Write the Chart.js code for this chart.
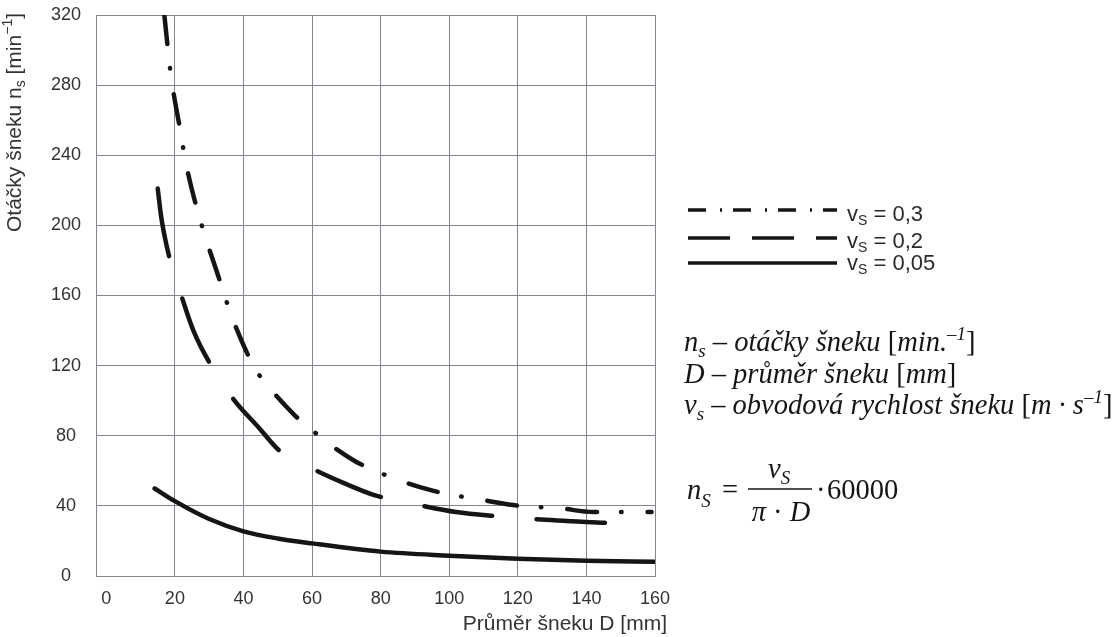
<!DOCTYPE html>
<html>
<head>
<meta charset="utf-8">
<script src="https://cdn.jsdelivr.net/npm/chart.js@4/dist/chart.umd.min.js"></script>
<style>
html,body{margin:0;padding:0;background:#fff;}
#wrap{width:1118px;height:637px;position:relative;}
</style>
</head>
<body>
<div id="wrap"><canvas id="c" width="1118" height="637"></canvas></div>
<script>
// ---- data ----
const xTickValues = [0, 20, 40, 60, 80, 100, 120, 140, 160];
const yTickValues = [0, 40, 80, 120, 160, 200, 240, 280, 320];

const seriesNames = ['0,3', '0,2', '0,05'];

// v_s = 0,3
const d03 = [16.9, 18.75, 21.4, 23.7, 27.7, 32.6, 36.6, 41.1, 44.6, 48.6, 55.1, 60.0, 64.8, 72.8, 78.1, 84.4, 94.9, 101.7, 108.4, 118.6, 124.9, 131.6, 142.1, 150.2, 159.0];
const n03 = [320.5, 287, 256, 231, 201, 171.4, 148, 127, 114.6, 105, 91.4, 83.2, 75.6, 65.2, 60.3, 55.3, 48.8, 46.0, 43.8, 40.5, 39.4, 38.8, 36.5, 36.5, 36.5];

// v_s = 0,2
const d02 = [15.0, 16.0, 17.2, 18.5, 20.0, 21.7, 25.4, 30.9, 37.4, 44.3, 50.8, 60.3, 69.3, 78.4, 91.1, 102.0, 113.2, 124.6, 147.4];
const n02 = [221, 205, 192, 181, 171, 161, 140, 119, 100, 85, 71, 61, 53, 46, 40.5, 36.5, 34.2, 32.5, 30.1];

// v_s = 0,05
const d005 = [14.1, 20, 30, 40, 50, 60, 80, 100, 120, 140, 160];
const n005 = [49.9, 42.7, 32.5, 25.5, 21.4, 18.6, 13.9, 11.6, 9.9, 8.7, 8.1];

// ---- styling ----
const SANS = "'Liberation Sans', Arial, 'DejaVu Sans', sans-serif";
const SERIF = "'Liberation Serif', 'Times New Roman', 'DejaVu Serif', serif";
const GRID = '#85858f';
const TICK = '#333333';
const INK = '#151515';

const pts = (xs, ys) => xs.map((x, i) => ({x: x, y: ys[i]}));

const dashStyles = [[30, 24, 0.5, 26], [68.5, 44.5], []];
const legendDash = [[18, 14, 2, 11], [42, 22], []];

function drawRuns(ctx, runs, x, y) {
  let cx = x;
  runs.forEach(r => {
    ctx.font = r.font;
    ctx.fillText(r.t, cx, y + (r.dy || 0));
    cx += ctx.measureText(r.t).width;
  });
  return cx;
}
function runsWidth(ctx, runs) {
  let w = 0;
  runs.forEach(r => { ctx.font = r.font; w += ctx.measureText(r.t).width; });
  return w;
}

const whiteBg = {
  id: 'whiteBg',
  beforeDraw(chart) {
    const c = chart.ctx;
    c.save();
    c.fillStyle = '#fff';
    c.fillRect(0, 0, chart.width, chart.height);
    c.restore();
  }
};

const annotations = {
  id: 'annotations',
  afterDraw(chart) {
    const ctx = chart.ctx;
    ctx.save();
    ctx.textBaseline = 'alphabetic';
    ctx.textAlign = 'left';

    // --- y-axis title (rotated) ---
    ctx.fillStyle = TICK;
    const f21 = '21px ' + SANS, f14 = '14px ' + SANS;
    const yRuns = [
      {t: 'Otáčky šneku n', font: f21},
      {t: 's', font: f14, dy: 4},
      {t: ' [min', font: f21},
      {t: '−1', font: f14, dy: -9},
      {t: ']', font: f21}
    ];
    const yw = runsWidth(ctx, yRuns);
    ctx.save();
    ctx.translate(21, 13 + yw);
    ctx.rotate(-Math.PI / 2);
    drawRuns(ctx, yRuns, 0, 0);
    ctx.restore();

    // --- x-axis title ---
    ctx.font = f21;
    ctx.textAlign = 'right';
    ctx.fillText('Průměr šneku D [mm]', 667, 630);
    ctx.textAlign = 'left';

    // --- legend ---
    const rowsLine = [210, 238, 263];
    const rowsText = [221, 248, 270];
    const ds = chart.data.datasets;
    ds.forEach((d, i) => {
      ctx.save();
      ctx.strokeStyle = INK;
      ctx.lineWidth = 3.5;
      ctx.lineCap = 'butt';
      ctx.setLineDash(legendDash[i]);
      ctx.beginPath();
      ctx.moveTo(688, rowsLine[i]);
      ctx.lineTo(837, rowsLine[i]);
      ctx.stroke();
      ctx.restore();
      ctx.fillStyle = '#2a2a2a';
      drawRuns(ctx, [
        {t: 'v', font: '22px ' + SANS},
        {t: 'S', font: '14px ' + SANS, dy: 4},
        {t: ' = ' + seriesNames[i], font: '22px ' + SANS}
      ], 847, rowsText[i]);
    });

    // --- explanation lines ---
    ctx.fillStyle = INK;
    const it = 'italic 28.5px ' + SERIF, itS = 'italic 19px ' + SERIF, up = '28.5px ' + SERIF;
    drawRuns(ctx, [
      {t: 'n', font: it}, {t: 's', font: itS, dy: 6},
      {t: ' – otáčky šneku ', font: it}, {t: '[', font: up},
      {t: 'min.', font: it}, {t: '–1', font: itS, dy: -11}, {t: ']', font: up}
    ], 684, 351);
    drawRuns(ctx, [
      {t: 'D – průměr šneku ', font: it}, {t: '[', font: up},
      {t: 'mm', font: it}, {t: ']', font: up}
    ], 684, 383);
    drawRuns(ctx, [
      {t: 'v', font: it}, {t: 's', font: itS, dy: 6},
      {t: ' – obvodová rychlost šneku ', font: it}, {t: '[', font: up},
      {t: 'm · s', font: it}, {t: '–1', font: itS, dy: -11}, {t: ']', font: up}
    ], 684, 414);

    // --- formula ---
    drawRuns(ctx, [{t: 'n', font: it}, {t: 'S', font: itS, dy: 8}], 687, 499);
    ctx.font = up;
    ctx.fillText('=', 722, 499);
    ctx.strokeStyle = INK;
    ctx.lineWidth = 1.4;
    ctx.beginPath();
    ctx.moveTo(748, 489);
    ctx.lineTo(812, 489);
    ctx.stroke();
    drawRuns(ctx, [{t: 'v', font: it}, {t: 'S', font: itS, dy: 6}], 768, 478);
    const denRuns = [{t: 'π', font: it}, {t: ' · ', font: up}, {t: 'D', font: it}];
    const dw = runsWidth(ctx, denRuns);
    drawRuns(ctx, denRuns, 781 - dw / 2, 521);
    ctx.font = up;
    ctx.fillText('·', 816, 499);
    ctx.fillText('60000', 827, 499);

    ctx.restore();
  }
};

const chart = new Chart(document.getElementById('c'), {
  type: 'line',
  data: {
    datasets: [
      {label: seriesNames[0], data: pts(d03, n03)},
      {label: seriesNames[1], data: pts(d02, n02)},
      {label: seriesNames[2], data: pts(d005, n005)}
    ].map((d, i) => Object.assign(d, {
      borderColor: INK,
      borderWidth: 4.5,
      borderDash: dashStyles[i],
      borderCapStyle: 'round',
      borderJoinStyle: 'round',
      pointRadius: 0,
      cubicInterpolationMode: 'monotone',
      fill: false,
      clip: 0
    }))
  },
  options: {
    responsive: false,
    animation: false,
    events: [],
    layout: {padding: {top: 15, right: 463, bottom: 0, left: 0}},
    plugins: {legend: {display: false}, tooltip: {enabled: false}},
    scales: {
      x: {
        type: 'linear',
        min: -3,
        max: 160,
        afterBuildTicks: s => { s.ticks = xTickValues.map(v => ({value: v})); },
        afterFit: s => { s.height = 61; s.paddingLeft = 0; s.paddingRight = 0; },
        grid: {
          color: c => (c.tick && c.tick.value === 0) ? 'rgba(0,0,0,0)' : GRID,
          lineWidth: 1,
          drawTicks: false
        },
        border: {color: GRID, width: 1},
        ticks: {padding: 12, color: TICK, font: {family: SANS, size: 18}, maxRotation: 0, autoSkip: false}
      },
      y: {
        type: 'linear',
        min: 0,
        max: 320,
        afterBuildTicks: s => { s.ticks = yTickValues.map(v => ({value: v})); },
        afterFit: s => { s.width = 96; s.paddingTop = 0; s.paddingBottom = 0; },
        grid: {color: GRID, lineWidth: 1, drawTicks: false},
        border: {color: GRID, width: 1},
        ticks: {padding: 15, crossAlign: 'center', color: TICK, font: {family: SANS, size: 18}, autoSkip: false}
      }
    }
  },
  plugins: [whiteBg, annotations]
});
</script>
</body>
</html>
